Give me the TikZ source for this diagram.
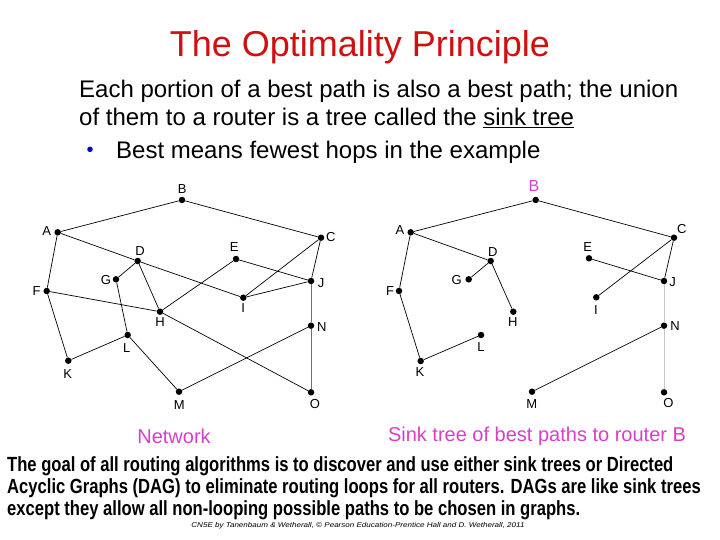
\documentclass[tikz,border=0pt]{standalone}
\usepackage{fontspec}
\setmainfont{Liberation Sans}
\newfontfamily\narrowfont[FakeStretch=0.81]{Liberation Sans}
\newfontfamily\widefont[FakeStretch=1.15]{Liberation Sans}
\definecolor{titlered}{RGB}{208,16,16}
\definecolor{pink}{RGB}{214,64,200}
\definecolor{bulletblue}{RGB}{0,0,190}
\definecolor{midgray}{RGB}{110,110,110}
\definecolor{softgray}{RGB}{200,200,200}
\tikzset{
  router/.style={circle, fill=black, inner sep=0pt, minimum size=6.5pt},
  lbl/.style={inner sep=0pt, font=\fontsize{13}{13}\selectfont},
  link/.style={line width=0.7pt, black},
  txt/.style={inner sep=0pt, anchor=base west, font=\fontsize{24}{24}\selectfont},
  para/.style={inner sep=0pt, anchor=base west, font=\narrowfont\bfseries\fontsize{20.5}{20.5}\selectfont},
  caption/.style={inner sep=0pt, anchor=base, text=pink, font=\fontsize{20}{20}\selectfont}
}
\begin{document}
\begin{tikzpicture}[x=1pt,y=-1pt]
\useasboundingbox (0,0) rectangle (720,540);

% title and text
\node[inner sep=0pt, anchor=base, text=titlered, font=\fontsize{36}{36}\selectfont] (title) at (360,57) {The Optimality Principle};
\node[txt] (l1) at (79,97.5) {Each portion of a best path is also a best path; the union};
\node[txt] (l2) at (79,126) {of them to a router is a tree called the \underline{sink tree}};
\node[inner sep=0pt, anchor=center, text=bulletblue, font=\fontsize{20}{20}\selectfont] (bul) at (90,152) {•};
\node[txt] (l3) at (116,159) {Best means fewest hops in the example};

% left graph routers
\node[router] (lA) at (57.7,232.3) {};
\node[router] (lB) at (182,200) {};
\node[router] (lC) at (321,237.7) {};
\node[router] (lD) at (137.7,261) {};
\node[router] (lE) at (236,259) {};
\node[router] (lF) at (46.7,291) {};
\node[router] (lG) at (116,279.3) {};
\node[router] (lH) at (160,311.7) {};
\node[router] (lI) at (243.3,297.7) {};
\node[router] (lJ) at (311,281) {};
\node[router] (lK) at (68.3,360.7) {};
\node[router] (lL) at (127.7,335) {};
\node[router] (lM) at (179,391.7) {};
\node[router] (lN) at (311,325.7) {};
\node[router] (lO) at (311,392.3) {};

\node[lbl] (lAl) at (46.7,231) {A};
\node[lbl] (lBl) at (182.3,189) {B};
\node[lbl] (lCl) at (330.7,237) {C};
\node[lbl] (lDl) at (140,251) {D};
\node[lbl] (lEl) at (234.3,247) {E};
\node[lbl] (lFl) at (36.7,291) {F};
\node[lbl] (lGl) at (106,280.3) {G};
\node[lbl] (lHl) at (160,322.3) {H};
\node[lbl] (lIl) at (243.3,307.7) {I};
\node[lbl] (lJl) at (321,283.3) {J};
\node[lbl] (lKl) at (67.7,374) {K};
\node[lbl] (lLl) at (126.7,347.7) {L};
\node[lbl] (lMl) at (179.3,405) {M};
\node[lbl] (lNl) at (321.7,326.7) {N};
\node[lbl] (lOl) at (315,404.3) {O};

\draw[link] (lA) -- (lB);
\draw[link] (lB) -- (lC);
\draw[link] (lA) -- (lD);
\draw[link] (lD) -- (lI);
\draw[link] (lD) -- (lG);
\draw[link] (lD) -- (lH);
\draw[link] (lG) -- (lL);
\draw[link] (lA) -- (lF);
\draw[link] (lF) -- (lH);
\draw[link] (lF) -- (lK);
\draw[link] (lK) -- (lL);
\draw[link] (lL) -- (lM);
\draw[link] (lH) -- (lO);
\draw[link] (lH) -- (lE);
\draw[link] (lE) -- (lJ);
\draw[link] (lC) -- (lI);
\draw[link] (lI) -- (lJ);
\draw[link] (lC) -- (lJ);
\draw[link] (lN) -- (lM);
\draw[line width=0.7pt, midgray] (lJ) -- (lN);
\draw[line width=0.7pt, midgray] (lN) -- (lO);

% right graph (sink tree)
\node[router] (rA) at (410.7,232.3) {};
\node[router] (rB) at (535.7,200) {};
\node[router] (rC) at (674,237.7) {};
\node[router] (rD) at (490.7,261) {};
\node[router] (rE) at (589,258.3) {};
\node[router] (rF) at (399,291) {};
\node[router] (rG) at (468.7,279.3) {};
\node[router] (rH) at (513.3,311.7) {};
\node[router] (rI) at (596.3,297.3) {};
\node[router] (rJ) at (664,281) {};
\node[router] (rK) at (420.7,361) {};
\node[router] (rL) at (481,335) {};
\node[router] (rM) at (532,391.7) {};
\node[router] (rN) at (664,325.7) {};
\node[router] (rO) at (664,392.3) {};

\node[lbl] (rAl) at (400,230) {A};
\node[inner sep=0pt, text=pink, font=\fontsize{16}{16}\selectfont] (rBl) at (534,185.7) {B};
\node[lbl] (rCl) at (681.7,229) {C};
\node[lbl] (rDl) at (492.7,251.7) {D};
\node[lbl] (rEl) at (587.7,246.7) {E};
\node[lbl] (rFl) at (390,291) {F};
\node[lbl] (rGl) at (456.7,280) {G};
\node[lbl] (rHl) at (512.7,322.3) {H};
\node[lbl] (rIl) at (596,310) {I};
\node[lbl] (rJl) at (672.7,281.7) {J};
\node[lbl] (rKl) at (420,372.3) {K};
\node[lbl] (rLl) at (481,346.7) {L};
\node[lbl] (rMl) at (531.7,404.3) {M};
\node[lbl] (rNl) at (675,325.7) {N};
\node[lbl] (rOl) at (668.3,403.3) {O};

\draw[link] (rA) -- (rB);
\draw[link] (rB) -- (rC);
\draw[link] (rA) -- (rD);
\draw[link] (rD) -- (rG);
\draw[link] (rD) -- (rH);
\draw[link] (rA) -- (rF);
\draw[link] (rF) -- (rK);
\draw[link] (rK) -- (rL);
\draw[link] (rC) -- (rI);
\draw[link] (rC) -- (rJ);
\draw[link] (rE) -- (rJ);
\draw[link] (rN) -- (rM);
\draw[line width=0.7pt, softgray] (rJ) -- (rN);
\draw[line width=0.7pt, softgray] (rN) -- (rO);

% captions
\node[caption] (cap1) at (174,443) {Network};
\node[caption] (cap2) at (537,441) {Sink tree of best paths to router B};

% bottom paragraph
\node[para] (p1) at (7,471.5) {The goal of all routing algorithms is to discover and use either sink trees or Directed};
\node[para] (p2) at (7,493.3) {Acyclic Graphs (DAG) to eliminate routing loops for all routers. DAGs are like sink trees};
\node[para] (p3) at (7,515) {except they allow all non-looping possible paths to be chosen in graphs.};

\node[inner sep=0pt, anchor=base, font=\widefont\itshape\fontsize{7}{7}\selectfont] (foot) at (358,527) {CN5E by Tanenbaum \& Wetherall, © Pearson Education-Prentice Hall and D. Wetherall, 2011};
\end{tikzpicture}
\end{document}
